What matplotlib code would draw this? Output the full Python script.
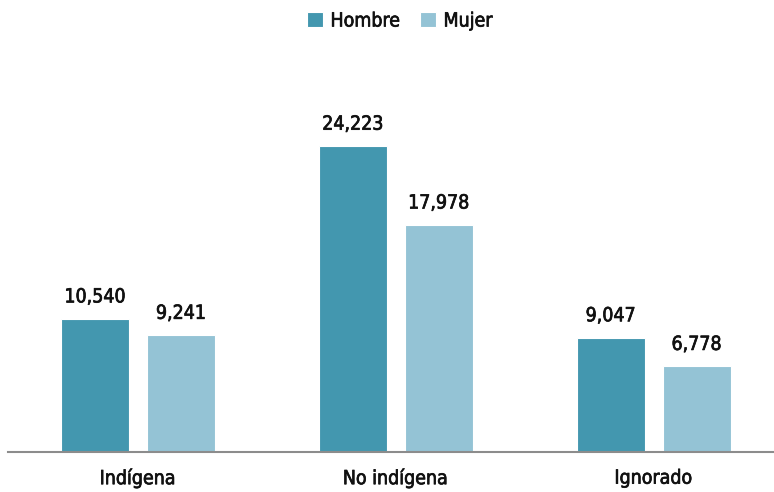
import matplotlib
matplotlib.use("Agg")
import matplotlib.pyplot as plt
import matplotlib.patheffects as pe
import numpy as np

categories = ["Indígena", "No indígena", "Ignorado"]
hombre = [10540, 24223, 9047]
mujer = [9241, 17978, 6778]
series_names = ["Hombre", "Mujer"]

plt.rcParams['font.family'] = ['DejaVu Sans']
plt.rcParams['font.stretch'] = 'condensed'
plt.rcParams['font.weight'] = 'medium'

c_h = "#4397AF"
c_m = "#94C3D5"
txt = "#111111"
bold = [pe.withStroke(linewidth=0.5, foreground=txt)]

fig = plt.figure(figsize=(7.74, 4.92), dpi=100)
ax = fig.add_axes([8/774, 40/492, 766/774, 392/492])

x = np.arange(len(categories))
w = 0.264
off = 0.1667
b1 = ax.bar(x - off, hombre, w, color=c_h, edgecolor="white", linewidth=0.8, label=series_names[0])
b2 = ax.bar(x + off, mujer, w, color=c_m, edgecolor="white", linewidth=0.8, label=series_names[1])

for bars, vals in ((b1, hombre), (b2, mujer)):
    for r, v in zip(bars, vals):
        ax.annotate(f"{v:,}", (r.get_x() + r.get_width()/2, r.get_height()),
                    xytext=(0, 9), textcoords="offset points", ha="center", va="bottom",
                    fontsize=14, color=txt, path_effects=bold)

ax.set_xlim(-0.504, 2.467)
ax.set_ylim(0, 31050)
ax.set_xticks(x)
ax.set_xticklabels(categories, fontsize=14, color=txt)
for t in ax.get_xticklabels():
    t.set_path_effects(bold)
ax.tick_params(axis="x", length=0, pad=12)
ax.set_yticks([])
for s in ("top", "right", "left"):
    ax.spines[s].set_visible(False)
ax.spines["bottom"].set_color("#8C8C8C")
ax.spines["bottom"].set_linewidth(1.5)

leg = fig.legend(handles=[b1, b2], labels=series_names, loc="center", bbox_to_anchor=(400/774, 1 - 21/492),
                 ncol=2, frameon=False, fontsize=14, handlelength=0.8, handleheight=0.8,
                 handletextpad=0.4, columnspacing=1.0)
for t in leg.get_texts():
    t.set_color(txt)
    t.set_path_effects(bold)

fig.savefig("out.png", dpi=100)
